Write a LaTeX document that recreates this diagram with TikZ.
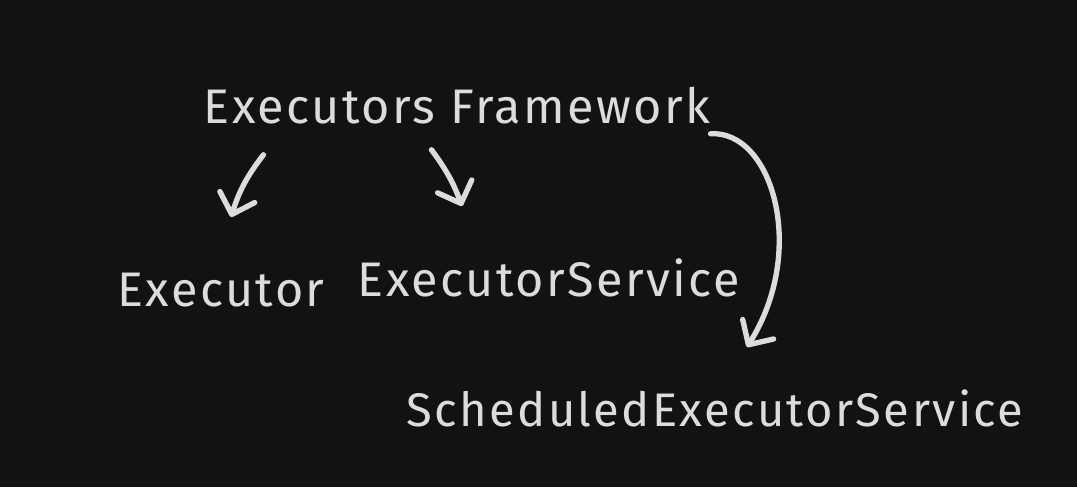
\documentclass[tikz,border=0pt]{standalone}
\usepackage{fontspec}
\usepackage{xcolor}
\usepackage{tikz}
\usetikzlibrary{calc,arrows.meta}
\newfontfamily\handfont[LetterSpace=5]{Fira Sans}
\definecolor{bg}{HTML}{121214}
\definecolor{ink}{HTML}{DCDCDC}
\tikzset{
  lab/.style={text=ink, font=\handfont\fontsize{34.5}{40}\selectfont, inner sep=0pt, anchor=center},
  arr/.style={draw=ink, line width=3.8pt, line cap=round, line join=round,
    -{Straight Barb[length=13pt, width=26pt, line width=3.8pt, round]}},
}
\begin{document}
\begin{tikzpicture}[x=0.025cm, y=-0.025cm]
  \fill[bg] (0,0) rectangle (1077,487);
  \useasboundingbox (0,0) rectangle (1077,487);

  \node[lab] (fw)    at (457,106) {Executors Framework};
  \node[lab] (exec)  at (221,290) {Executor};
  \node[lab] (serv)  at (549,278) {ExecutorService};
  \node[lab,font=\handfont\fontsize{33.5}{40}\selectfont] (sched) at (715,408) {ScheduledExecutorService};

  % free ends of the arrows
  \coordinate (e1) at (231,217);
  \coordinate (e2) at (462,206);
  \coordinate (e3) at (747,347);

  \draw[arr] ($(fw.south west)+(60,30)$) to[bend right=10] (e1);
  \draw[arr] ($(fw.south west)+(228,25)$) to[bend left=8] (e2);
  \draw[arr] ($(fw.south east)+(0,9)$) .. controls (772,130) and (808,250) .. (e3);
\end{tikzpicture}
\end{document}
